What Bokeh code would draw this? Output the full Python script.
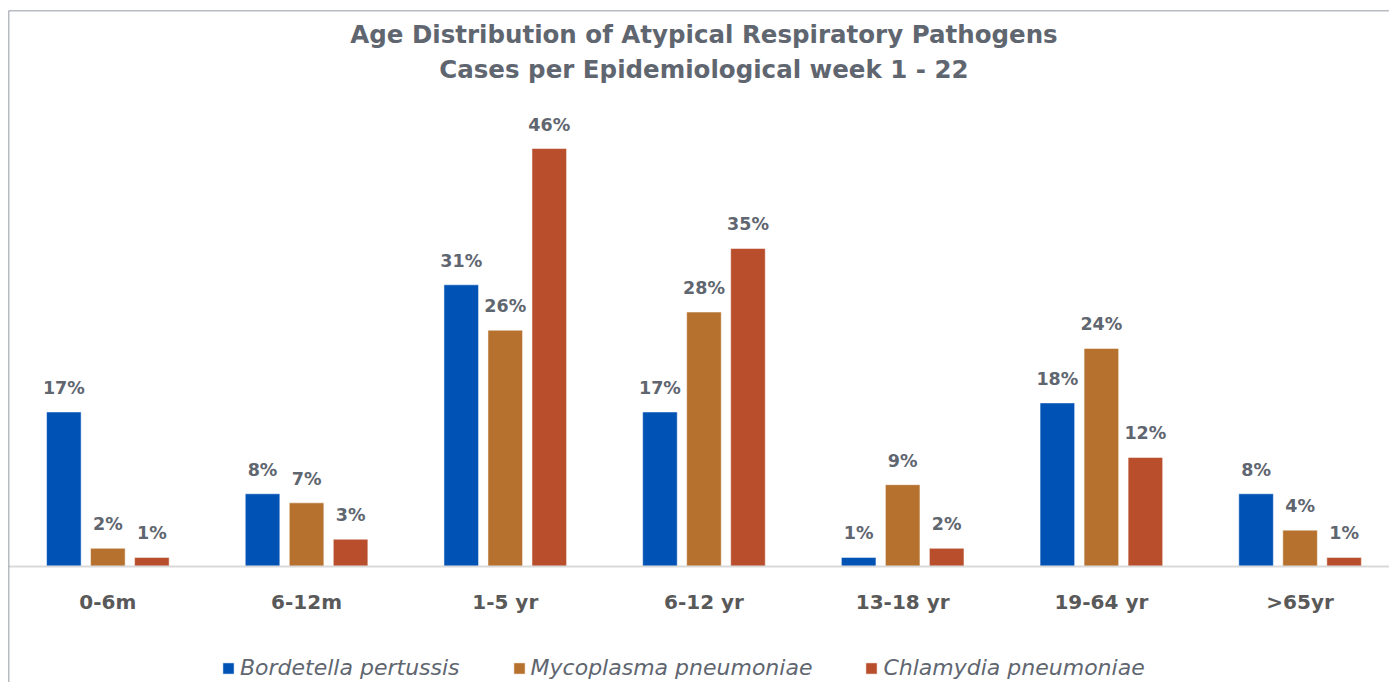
from bokeh.plotting import figure
from bokeh.models import (ColumnDataSource, Range1d, FixedTicker, Label, Legend, LegendItem, Span)
from bokeh.transform import dodge
from bokeh.core.properties import value
from bokeh.embed import file_html
from bokeh.resources import INLINE

categories = ["0-6m", "6-12m", "1-5 yr", "6-12 yr", "13-18 yr", "19-64 yr", ">65yr"]
bordetella = [17, 8, 31, 17, 1, 18, 8]
mycoplasma = [2, 7, 26, 28, 9, 24, 4]
chlamydia = [1, 3, 46, 35, 2, 12, 1]
series_names = ["Bordetella pertussis", "Mycoplasma pneumoniae", "Chlamydia pneumoniae"]
colors = ["#0052B5", "#B5712D", "#B84E2C"]
title_lines = ["Age Distribution of Atypical Respiratory Pathogens",
               "Cases per Epidemiological week 1 - 22"]

centers = [i + 0.5 for i in range(len(categories))]
src = ColumnDataSource(dict(
    xc=centers,
    b=bordetella, m=mycoplasma, c=chlamydia,
    bt=[f"{v}%" for v in bordetella],
    mt=[f"{v}%" for v in mycoplasma],
    ct=[f"{v}%" for v in chlamydia],
))

FONT = "DejaVu Sans"
GRAY = "#5F6670"

p = figure(width=1389, height=682, x_range=Range1d(0, 6.95), y_range=Range1d(-12.77, 61.19),
           output_backend="svg", toolbar_location=None,
           min_border_left=8, min_border_right=0, min_border_top=10, min_border_bottom=0)
p.outline_line_color = None
p.grid.visible = False
p.yaxis.visible = False
p.background_fill_color = "white"
p.border_fill_color = "white"

# chart border (left and top edges)
p.add_layout(Span(location=0, dimension="height", line_color="#6F7A86", line_width=1.5))
p.add_layout(Span(location=61.19, dimension="width", line_color="#6F7A86", line_width=1.5))

# titles
mid = len(categories) / 2
for txt, yy in zip(title_lines, [58.54, 54.69]):
    p.add_layout(Label(x=mid, y=yy, text=txt, text_align="center", text_baseline="alphabetic",
                       text_font=FONT, text_font_size="24.5px", text_font_style="bold",
                       text_color=GRAY))

offsets = [-0.2215, 0.0, 0.2215]
keys = ["b", "m", "c"]
tkeys = ["bt", "mt", "ct"]
renderers = []
for k, tk, off, col in zip(keys, tkeys, offsets, colors):
    r = p.vbar(x=dodge("xc", off, range=p.x_range), top=k, width=0.174, bottom=0,
               source=src, fill_color=col, line_color="#FFFFFF", line_alpha=0.5, line_width=1)
    renderers.append(r)
    p.text(x=dodge("xc", off, range=p.x_range), y=k, text=tk, source=src,
           text_align="center", text_baseline="alphabetic", y_offset=-24,
           text_font=value(FONT), text_font_size="17.5px", text_font_style="bold",
           text_color=GRAY)

ax = p.xaxis[0]
ax.fixed_location = 0
ax.ticker = FixedTicker(ticks=centers)
ax.major_label_overrides = {c: lab for c, lab in zip(centers, categories)}
ax.major_tick_line_color = None
ax.minor_tick_line_color = None
ax.axis_line_color = "#D9D9D9"
ax.axis_line_width = 2
ax.major_label_standoff = 18
ax.major_label_text_font = FONT
ax.major_label_text_font_size = "20px"
ax.major_label_text_font_style = "bold"
ax.major_label_text_color = "#595959"

legend = Legend(items=[LegendItem(label=n, renderers=[r]) for n, r in zip(series_names, renderers)],
                orientation="horizontal", location=(213, 2),
                label_text_font=FONT, label_text_font_size="22px", label_text_font_style="italic",
                label_text_color=GRAY, glyph_width=14, glyph_height=14,
                spacing=52, border_line_color=None, background_fill_alpha=0,
                margin=0, padding=0, label_standoff=5)
p.add_layout(legend, "center")

open("out.html", "w").write(file_html(p, INLINE))
